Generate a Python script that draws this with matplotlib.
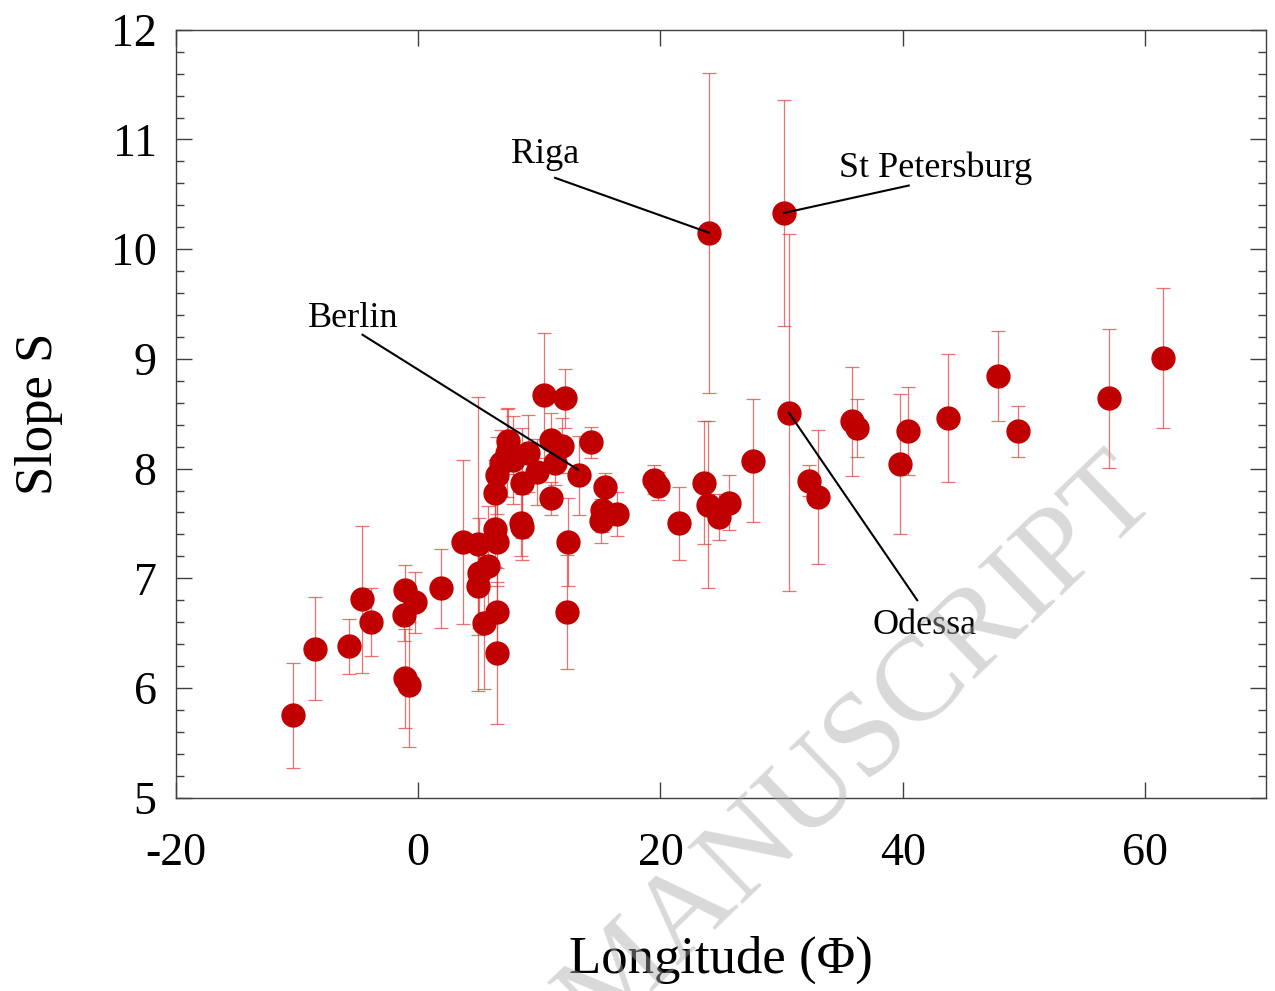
import numpy as np
from matplotlib import pyplot as plt
from matplotlib.ticker import MultipleLocator

# longitude, slope, error
longitude = [-10.3, -8.5, -5.7, -4.6, -3.9, -1.1, -0.3, -1.2, -1.1, -0.8, 1.9, 3.7,
             4.9, 5.8, 5.0, 4.9, 6.5, 5.4, 6.5, 6.3, 6.5, 6.3, 6.5, 6.8, 7.3, 7.4,
             7.8, 8.6, 9.1, 9.8, 8.5, 8.6, 11.0, 11.9, 11.3, 10.4, 12.1, 14.3, 13.3,
             15.4, 15.2, 16.4, 15.1, 11.0, 12.4, 12.3, 19.5, 19.8, 21.5, 23.6, 23.9,
             24.8, 25.7, 27.6, 30.6, 24.0, 30.2, 32.3, 33.0, 35.8, 36.2, 39.8, 40.4,
             43.7, 47.9, 49.5, 57.0, 61.5]
slope = [5.75, 6.36, 6.38, 6.81, 6.60, 6.89, 6.78, 6.67, 6.09, 6.03, 6.91, 7.33,
         7.31, 7.11, 7.05, 6.93, 6.69, 6.59, 6.32, 7.45, 7.33, 7.78, 7.94, 8.05, 8.14, 8.25,
         8.08, 7.87, 8.14, 7.97, 7.50, 7.47, 8.26, 8.21, 8.05, 8.67, 8.64, 8.24, 7.94,
         7.83, 7.62, 7.59, 7.52, 7.73, 7.33, 6.69, 7.90, 7.84, 7.50, 7.87, 7.67,
         7.56, 7.69, 8.07, 8.51, 10.15, 10.33, 7.89, 7.74, 8.43, 8.37, 8.04, 8.34,
         8.46, 8.84, 8.34, 8.64, 9.01]
error = [0.48, 0.47, 0.25, 0.67, 0.31, 0.23, 0.28, 0.24, 0.45, 0.57, 0.36, 0.75,
         1.34, 0.55, 0.50, 0.45, 0.40, 0.60, 0.65, 0.35, 0.40, 0.30, 0.35, 0.30, 0.40, 0.30,
         0.40, 0.50, 0.35, 0.30, 0.30, 0.30, 0.25, 0.25, 0.20, 0.57, 0.27, 0.14, 0.36,
         0.13, 0.20, 0.20, 0.20, 0.15, 0.40, 0.52, 0.13, 0.13, 0.33, 0.56, 0.76,
         0.21, 0.25, 0.56, 1.63, 1.46, 1.03, 0.14, 0.61, 0.50, 0.26, 0.64, 0.40,
         0.58, 0.41, 0.23, 0.63, 0.64]

cities = ["Riga", "St Petersburg", "Berlin", "Odessa"]
city_point = [(24.0, 10.15), (30.2, 10.33), (13.2, 7.99), (30.6, 8.51)]
label_pos = [(10.46, 10.86), (42.75, 10.74), (-5.35, 9.37), (41.8, 6.57)]
line_start = [(11.3, 10.65), (40.5, 10.58), (-4.6, 9.22), (41.2, 6.80)]

plt.rcParams['font.family'] = ['Liberation Serif', 'DejaVu Serif']
plt.rcParams['axes.unicode_minus'] = False

fig = plt.figure(figsize=(12.75, 9.91), dpi=100)
ax = fig.add_axes([0.138, 0.195, 0.855, 0.775])

ax.errorbar(longitude, slope, yerr=error, fmt='none', ecolor='#e03838', alpha=0.7,
            elinewidth=0.9, capsize=5, capthick=0.9, zorder=2)
ax.plot(longitude, slope, 'o', color='#c00000', markersize=16.5, zorder=3)

for name, pt, lp, ls in zip(cities, city_point, label_pos, line_start):
    ax.plot([ls[0], pt[0]], [ls[1], pt[1]], color='black', lw=1.5, zorder=4)
    ax.text(lp[0], lp[1], name, fontsize=26, ha='center', va='center', zorder=5)

ax.set_xlim(-20, 70)
ax.set_ylim(5, 12)
ax.set_xticks([-20, 0, 20, 40, 60])
ax.yaxis.set_minor_locator(MultipleLocator(0.2))
ax.tick_params(axis='both', which='both', direction='in', top=True, right=True,
               color='#404040', width=1)
ax.tick_params(axis='both', which='major', length=11.5, labelsize=33)
ax.tick_params(axis='x', which='major', pad=25)
ax.tick_params(axis='y', which='major', pad=14)
ax.tick_params(axis='y', which='minor', length=6)
for s in ax.spines.values():
    s.set_color('#404040')
    s.set_linewidth(1)

ax.set_xlabel('Longitude (Φ)', fontsize=38, labelpad=44)
ax.set_ylabel('Slope S', fontsize=38, labelpad=34)

fig.text(0.91, 0.495, 'ACCEPTED MANUSCRIPT', fontsize=87, color='#aaaaaa', alpha=0.45,
         rotation=44, rotation_mode='anchor', ha='right', va='baseline', zorder=10)

fig.savefig('out.png', dpi=100)
